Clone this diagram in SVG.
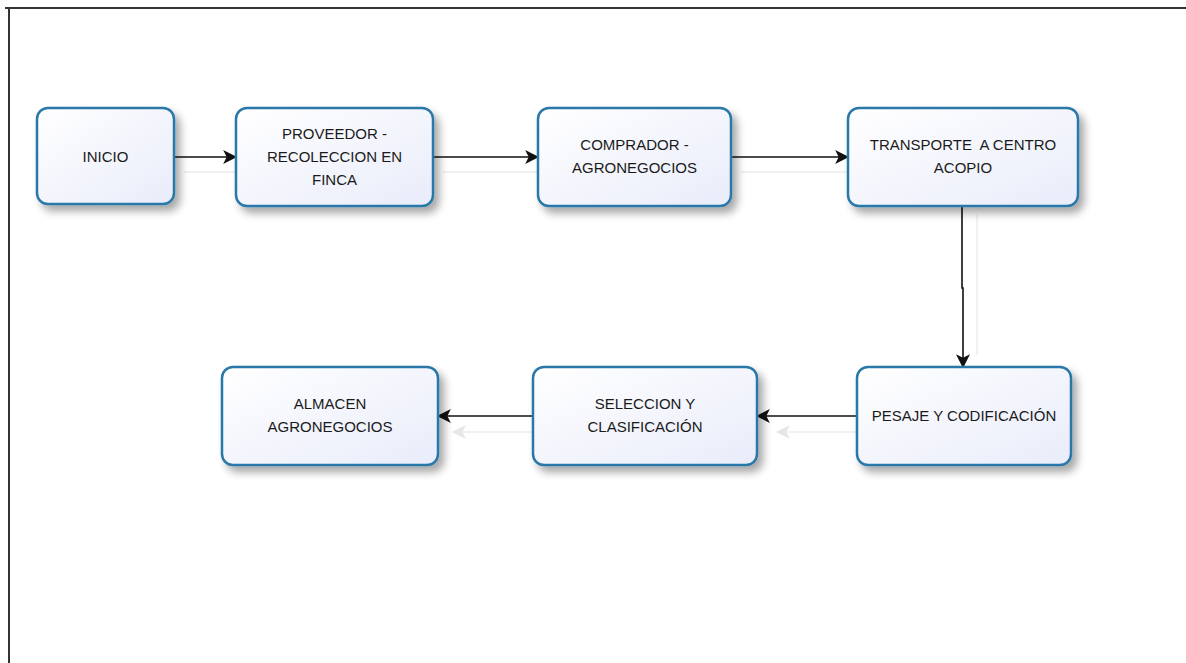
<svg xmlns="http://www.w3.org/2000/svg" width="1186" height="663" viewBox="0 0 1186 663">
<defs>
<linearGradient id="g" x1="0" y1="0" x2="1" y2="1">
<stop offset="0" stop-color="#ffffff"/>
<stop offset="1" stop-color="#e9ecfa"/>
</linearGradient>
<filter id="sh" x="-20%" y="-20%" width="150%" height="150%">
<feGaussianBlur in="SourceAlpha" stdDeviation="4"/>
<feOffset dx="5" dy="6" result="b"/>
<feComponentTransfer><feFuncA type="linear" slope="0.35"/></feComponentTransfer>
<feMerge><feMergeNode/><feMergeNode in="SourceGraphic"/></feMerge>
</filter>
<marker id="ah" viewBox="0 0 12 12" refX="11" refY="6" markerWidth="14" markerHeight="14" markerUnits="userSpaceOnUse" orient="auto">
<path d="M0,0 L12,6 L0,12 L3,6 Z" fill="#111"/>
</marker>
<marker id="ahg" viewBox="0 0 12 12" refX="11" refY="6" markerWidth="14" markerHeight="14" markerUnits="userSpaceOnUse" orient="auto">
<path d="M0,0 L12,6 L0,12 L3,6 Z" fill="#e6e6e6"/>
</marker>
</defs>
<style>
.box{fill:url(#g);stroke:#2a78a8;stroke-width:2.5;filter:url(#sh)}
.t{font-family:"Liberation Sans",Arial,sans-serif;font-size:15px;fill:#1a1a1a;text-anchor:middle}
.c{fill:none;stroke:#111;stroke-width:1.6;marker-end:url(#ah)}
.cg{fill:none;stroke:#ececec;stroke-width:1.5}
.frame{stroke:#333;stroke-width:2;fill:none}
</style>
<rect width="1186" height="663" fill="#fff"/>
<path class="frame" d="M5,8 H1186 M9,8 V663"/>
<g id="connectors">
<path class="cg" d="M184,172 H236"/>
<path class="cg" d="M443,172 H538"/>
<path class="cg" d="M741,172 H848"/>
<path class="cg" d="M977,215 V355"/>
<path class="cg" d="M857,432 H777" marker-end="url(#ahg)"/>
<path class="cg" d="M533,432 H453" marker-end="url(#ahg)"/>
<path class="c" d="M174,157 H236"/>
<path class="c" d="M433,157 H538"/>
<path class="c" d="M731,157 H848"/>
<path class="c" d="M962,207 V288 H963 V367"/>
<path class="c" d="M857,416 H757"/>
<path class="c" d="M533,416 H438"/>
</g>
<g id="inicio"><rect class="box" x="37" y="108" width="137" height="96" rx="11"/><text class="t" x="105.5" y="162">INICIO</text></g>
<g id="proveedor"><rect class="box" x="236" y="108" width="197" height="98" rx="11"/><text class="t" x="334.5" y="139">PROVEEDOR -</text><text class="t" x="334.5" y="162">RECOLECCION EN</text><text class="t" x="334.5" y="185">FINCA</text></g>
<g id="comprador"><rect class="box" x="538" y="108" width="193" height="98" rx="11"/><text class="t" x="634.5" y="150">COMPRADOR -</text><text class="t" x="634.5" y="173">AGRONEGOCIOS</text></g>
<g id="transporte"><rect class="box" x="848" y="108" width="230" height="98" rx="11"/><text class="t" x="963" y="150" xml:space="preserve">TRANSPORTE  A CENTRO</text><text class="t" x="963" y="173">ACOPIO</text></g>
<g id="pesaje"><rect class="box" x="857" y="367" width="214" height="98" rx="11"/><text class="t" x="964" y="421">PESAJE Y CODIFICACIÓN</text></g>
<g id="seleccion"><rect class="box" x="533" y="367" width="224" height="98" rx="11"/><text class="t" x="645" y="409">SELECCION Y</text><text class="t" x="645" y="432">CLASIFICACIÓN</text></g>
<g id="almacen"><rect class="box" x="222" y="367" width="216" height="98" rx="11"/><text class="t" x="330" y="409">ALMACEN</text><text class="t" x="330" y="432">AGRONEGOCIOS</text></g>
</svg>
